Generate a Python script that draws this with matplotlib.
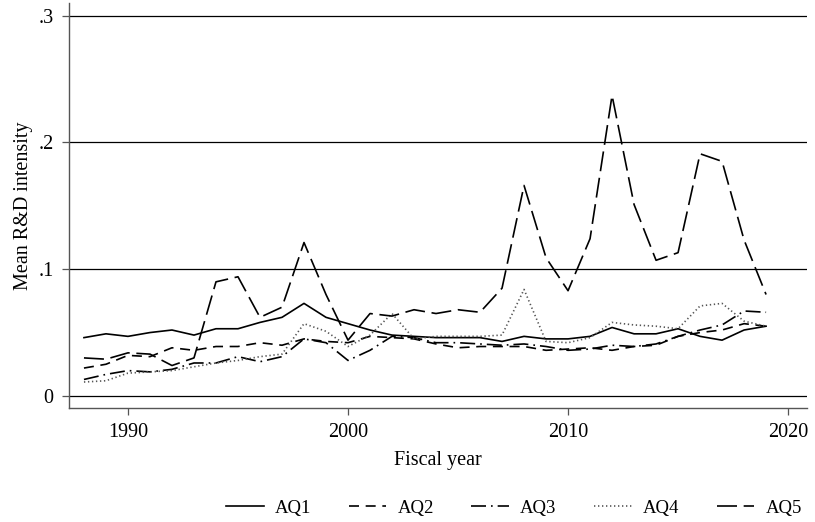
import numpy as np
import matplotlib
matplotlib.use("Agg")
import matplotlib.pyplot as plt

plt.rcParams['font.family'] = ['Liberation Serif', 'DejaVu Serif']

years = np.arange(1988, 2020)

aq1 = [0.046, 0.049, 0.047, 0.050, 0.052, 0.048, 0.053, 0.053, 0.058, 0.062,
       0.073, 0.062, 0.057, 0.052, 0.048, 0.047, 0.046, 0.046, 0.046, 0.043,
       0.047, 0.045, 0.045, 0.047, 0.054, 0.049, 0.049, 0.053, 0.047, 0.044,
       0.052, 0.055]
aq2 = [0.022, 0.025, 0.032, 0.031, 0.038, 0.036, 0.039, 0.039, 0.042, 0.040,
       0.045, 0.043, 0.042, 0.047, 0.046, 0.045, 0.041, 0.038, 0.039, 0.039,
       0.039, 0.036, 0.037, 0.038, 0.036, 0.039, 0.040, 0.047, 0.050, 0.052,
       0.057, 0.055]
aq3 = [0.013, 0.017, 0.020, 0.019, 0.021, 0.026, 0.026, 0.031, 0.027, 0.031,
       0.045, 0.042, 0.028, 0.036, 0.047, 0.046, 0.042, 0.042, 0.041, 0.040,
       0.041, 0.039, 0.036, 0.037, 0.040, 0.039, 0.041, 0.047, 0.052, 0.056,
       0.067, 0.066]
aq4 = [0.011, 0.012, 0.018, 0.019, 0.020, 0.023, 0.026, 0.028, 0.031, 0.033,
       0.057, 0.051, 0.039, 0.048, 0.065, 0.045, 0.047, 0.047, 0.047, 0.048,
       0.084, 0.043, 0.042, 0.046, 0.058, 0.056, 0.055, 0.053, 0.071, 0.073,
       0.059, 0.055]
aq5 = [0.030, 0.029, 0.034, 0.033, 0.024, 0.030, 0.090, 0.094, 0.062, 0.070,
       0.121, 0.080, 0.044, 0.065, 0.063, 0.068, 0.065, 0.068, 0.066, 0.085,
       0.166, 0.109, 0.083, 0.124, 0.237, 0.151, 0.107, 0.113, 0.191, 0.185,
       0.123, 0.080]

labels = ['AQ1', 'AQ2', 'AQ3', 'AQ4', 'AQ5']
series = [aq1, aq2, aq3, aq4, aq5]
styles = [
    dict(linestyle='-', color='black'),
    dict(linestyle=(0, (6, 4)), color='black'),
    dict(linestyle=(0, (9, 3, 1, 3)), color='black'),
    dict(linestyle=(0, (0.8, 1.6)), color='#555555'),
    dict(linestyle=(0, (12, 4)), color='black'),
]

fig = plt.figure(figsize=(8.15, 5.22), dpi=100)
ax = fig.add_axes([69 / 815, 1 - 408 / 522, 738 / 815, 405 / 522])

for y, lab, st in zip(series, labels, styles):
    ax.plot(years, y, lw=1.2, label=lab, **st)

ax.set_xlim(1987.32, 2020.86)
ax.set_ylim(-0.0095, 0.3099)
ax.set_yticks([0, 0.1, 0.2, 0.3])
ax.set_yticklabels(['0', '.1', '.2', '.3'])
ax.set_xticks([1990, 2000, 2010, 2020])
ax.grid(axis='y', color='black', lw=0.9)
ax.set_axisbelow(True)

for s in ['top', 'right']:
    ax.spines[s].set_visible(False)
for s in ['left', 'bottom']:
    ax.spines[s].set_color('#555555')
    ax.spines[s].set_linewidth(1.0)
ax.tick_params(labelsize=14.5, length=5, width=0.9, color='#555555', pad=6)

ax.set_xlabel('Fiscal year', fontsize=14.5, labelpad=6)
ax.set_ylabel('Mean R&D intensity', fontsize=14.5, labelpad=4)

fig.legend(loc='center', bbox_to_anchor=(514 / 815, 1 - 508 / 522), ncol=5,
           frameon=False, fontsize=13.5, handlelength=2.0, columnspacing=2.0,
           handletextpad=0.6)

fig.savefig('out.png', dpi=100, facecolor='white')
